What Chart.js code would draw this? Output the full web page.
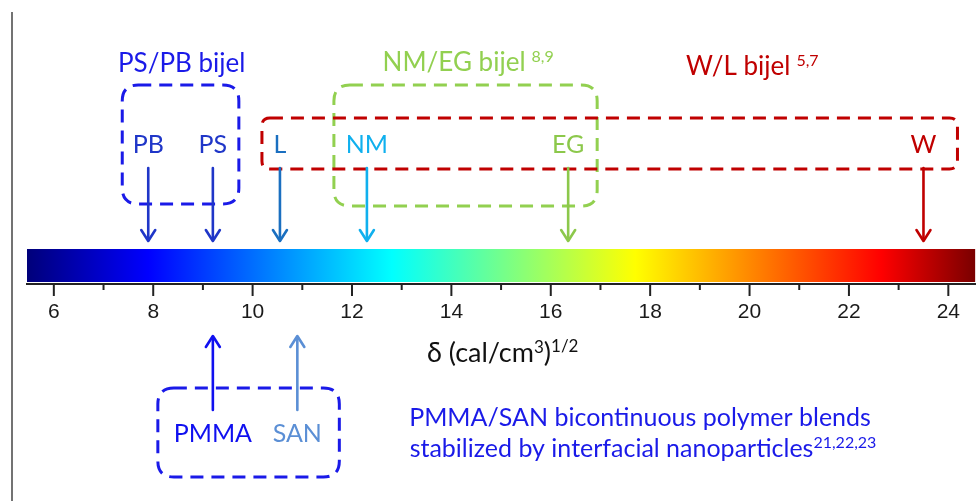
<!DOCTYPE html>
<html><head><meta charset="utf-8">
<script src="https://cdn.jsdelivr.net/npm/chart.js@4/dist/chart.umd.min.js"></script>
<style>html,body{margin:0;padding:0;background:#fff;overflow:hidden}
#wrap{position:relative;width:976px;height:501px}</style>
</head><body><div id="wrap"><canvas id="c" width="976" height="501"></canvas></div>
<script>
// ---------- data ----------
const axisMin = 5.46, axisMax = 24.54;
const tickValues = [6, 8, 10, 12, 14, 16, 18, 20, 22, 24];
const minorTickValues = [7, 9, 11, 13, 15, 17, 19, 21, 23];
const axisTitle = 'δ (cal/cm';
const axisTitleSup1 = '3';
const axisTitleMid = ')';
const axisTitleSup2 = '1/2';

const topNames  = ['PB', 'PS', 'L', 'NM', 'EG', 'W'];
const topValues = [7.9, 9.2, 10.55, 12.3, 16.35, 23.5];
const bottomNames  = ['PMMA', 'SAN'];
const bottomValues = [9.2, 10.9];

const groupNames   = ['PS/PB bijel', 'NM/EG bijel', 'W/L bijel', 'PMMA/SAN'];
const groupRefs    = ['', '8,9', '5,7', ''];
const groupMembers = [['PB', 'PS'], ['NM', 'EG'], ['L', 'W'], ['PMMA', 'SAN']];

const captionLine1 = 'PMMA/SAN bicontinuous polymer blends';
const captionLine2 = 'stabilized by interfacial nanoparticles';
const captionRefs  = '21,22,23';

// colour bar (jet) stops in solubility-parameter units
const barStopValues = [5.46, 7.9, 12.8, 17.7, 22.65, 24.54];
const barStopColors = ['#00007a', '#0000ff', '#00ffff', '#ffff00', '#ff0000', '#7a0000'];

// ---------- styles / layout ----------
const FONT = 'Lato, "Open Sans", sans-serif';
const TICK_FONT = '"Liberation Sans", Arial, sans-serif';
const topColors = {PB: '#1f36c8', PS: '#1f36c8', L: '#1a6fc0', NM: '#10b0ee', EG: '#8cc84b', W: '#c00000'};
const bottomColors = {PMMA: '#1010f0', SAN: '#5b8fd5'};
const groupStyle = [
  {color: '#1a1ae8', top: 85,  bottom: 204, padL: 26, padR: 26, r: 16, labelFrac: 0.51, labelY: 72},
  {color: '#92d050', top: 85,  bottom: 206, padL: 33, padR: 29, r: 16, labelFrac: 0.51, labelY: 71},
  {color: '#c00000', top: 118, bottom: 169, padL: 18, padR: 34, r: 8,  labelFrac: 0.705, labelY: 75},
  {color: '#1a1ae8', top: 388, bottom: 477, padL: 55, padR: 42, r: 16, labelFrac: 0.5, labelY: null}
];
const BAR_TOP = 249, BAR_BOTTOM = 282;

Chart.defaults.font.family = TICK_FONT;
Chart.defaults.font.size = 20;

function drawRich(ctx, parts, x, y, align) {
  let w = 0;
  parts.forEach(p => { ctx.font = p.size + 'px ' + FONT; w += ctx.measureText(p.t).width + (p.gap || 0); });
  let cx = align === 'center' ? x - w / 2 : x;
  parts.forEach(p => {
    ctx.font = p.size + 'px ' + FONT;
    ctx.fillStyle = p.color;
    ctx.textAlign = 'left';
    ctx.textBaseline = 'alphabetic';
    cx += (p.gap || 0);
    ctx.fillText(p.t, cx, y - (p.rise || 0));
    cx += ctx.measureText(p.t).width;
  });
}

function roundRect(ctx, x0, y0, x1, y1, r) {
  ctx.beginPath();
  ctx.moveTo(x0 + r, y0);
  ctx.lineTo(x1 - r, y0);
  ctx.quadraticCurveTo(x1, y0, x1, y0 + r);
  ctx.lineTo(x1, y1 - r);
  ctx.quadraticCurveTo(x1, y1, x1 - r, y1);
  ctx.lineTo(x0 + r, y1);
  ctx.quadraticCurveTo(x0, y1, x0, y1 - r);
  ctx.lineTo(x0, y0 + r);
  ctx.quadraticCurveTo(x0, y0, x0 + r, y0);
  ctx.closePath();
}

function arrow(ctx, x, yFrom, yTo, color) {
  const dir = yTo > yFrom ? 1 : -1;
  ctx.save();
  ctx.strokeStyle = color;
  ctx.lineWidth = 2.6;
  ctx.setLineDash([]);
  ctx.lineCap = 'round';
  ctx.lineJoin = 'round';
  ctx.beginPath();
  ctx.moveTo(x, yFrom);
  ctx.lineTo(x, yTo - dir * 1);
  ctx.stroke();
  ctx.beginPath();
  ctx.moveTo(x - 7, yTo - dir * 11);
  ctx.lineTo(x, yTo);
  ctx.lineTo(x + 7, yTo - dir * 11);
  ctx.stroke();
  ctx.restore();
}

const figurePlugin = {
  id: 'figure',
  beforeDatasetsDraw(chart) {
    const ctx = chart.ctx;
    const xs = chart.scales.x;
    const px = v => xs.getPixelForValue(v);
    const x0 = px(axisMin), x1 = px(axisMax);
    const g = ctx.createLinearGradient(x0, 0, x1, 0);
    barStopValues.forEach((v, i) => g.addColorStop((v - axisMin) / (axisMax - axisMin), barStopColors[i]));
    ctx.save();
    ctx.fillStyle = g;
    ctx.fillRect(x0, BAR_TOP, x1 - x0, BAR_BOTTOM - BAR_TOP);
    ctx.restore();
  },
  afterDraw(chart) {
    const ctx = chart.ctx;
    const xs = chart.scales.x;
    const px = v => xs.getPixelForValue(v);
    const valueOf = n => { let i = topNames.indexOf(n); if (i >= 0) return topValues[i]; return bottomValues[bottomNames.indexOf(n)]; };
    ctx.save();
    ctx.strokeStyle = '#444';
    ctx.lineWidth = 1.5;
    ctx.beginPath(); ctx.moveTo(12, 12); ctx.lineTo(12, 501); ctx.stroke();

    const yAxis = xs.top;
    ctx.strokeStyle = '#222';
    ctx.lineWidth = 2;
    tickValues.forEach(v => { ctx.beginPath(); ctx.moveTo(px(v), yAxis); ctx.lineTo(px(v), yAxis + 12); ctx.stroke(); });
    minorTickValues.forEach(v => { ctx.beginPath(); ctx.moveTo(px(v), yAxis); ctx.lineTo(px(v), yAxis + 6); ctx.stroke(); });

    groupNames.forEach((name, gi) => {
      const st = groupStyle[gi];
      const vals = groupMembers[gi].map(valueOf);
      const bx0 = px(Math.min(...vals)) - st.padL;
      const bx1 = px(Math.max(...vals)) + st.padR;
      ctx.save();
      ctx.strokeStyle = st.color;
      ctx.lineWidth = 3;
      ctx.setLineDash([13, 8]);
      roundRect(ctx, bx0, st.top, bx1, st.bottom, st.r);
      ctx.stroke();
      ctx.restore();
      if (st.labelY !== null) {
        const lx = bx0 + st.labelFrac * (bx1 - bx0);
        const parts = [{t: name, size: 26, color: st.color}];
        if (groupRefs[gi]) parts.push({t: groupRefs[gi], size: 16, color: st.color, rise: 9, gap: 6});
        drawRich(ctx, parts, lx, st.labelY, 'center');
      }
    });

    topNames.forEach((n, i) => {
      const x = px(topValues[i]);
      arrow(ctx, x, 168, 241, topColors[n]);
      drawRich(ctx, [{t: n, size: 25, color: topColors[n]}], x, 153, 'center');
    });
    bottomNames.forEach((n, i) => {
      const x = px(bottomValues[i]);
      arrow(ctx, x, 410, 336, bottomColors[n]);
      drawRich(ctx, [{t: n, size: 25, color: bottomColors[n]}], x, 442, 'center');
    });

    drawRich(ctx, [
      {t: axisTitle, size: 27, color: '#111'},
      {t: axisTitleSup1, size: 17, color: '#111', rise: 9},
      {t: axisTitleMid, size: 27, color: '#111'},
      {t: axisTitleSup2, size: 17, color: '#111', rise: 10}
    ], 427, 362, 'left');

    drawRich(ctx, [{t: captionLine1, size: 25, color: '#1a1ae8'}], 640, 426, 'center');
    drawRich(ctx, [{t: captionLine2, size: 25, color: '#1a1ae8'}, {t: captionRefs, size: 16, color: '#1a1ae8', rise: 9}], 643, 457, 'center');
    ctx.restore();
  }
};

new Chart(document.getElementById('c'), {
  type: 'scatter',
  data: { datasets: [{ data: [], showLine: false }] },
  options: {
    responsive: false,
    animation: false,
    events: [],
    layout: { padding: { left: 27, right: 0, top: 0, bottom: 0 } },
    plugins: { legend: { display: false }, tooltip: { enabled: false }, title: { display: false } },
    scales: {
      x: {
        type: 'linear',
        min: axisMin,
        max: axisMax,
        afterBuildTicks: s => { s.ticks = tickValues.map(v => ({value: v})); },
        afterFit: s => { s.height = 501 - 284; },
        grid: { display: true, drawOnChartArea: false, drawTicks: false },
        border: { display: true, color: '#222', width: 2 },
        ticks: {
          padding: 16,
          maxRotation: 0,
          autoSkip: false,
          color: '#1a1a1a',
          font: { family: TICK_FONT, size: 21 },
          callback: v => String(v)
        }
      },
      y: { display: false, min: 0, max: 1 }
    }
  },
  plugins: [figurePlugin]
});
</script></body></html>
